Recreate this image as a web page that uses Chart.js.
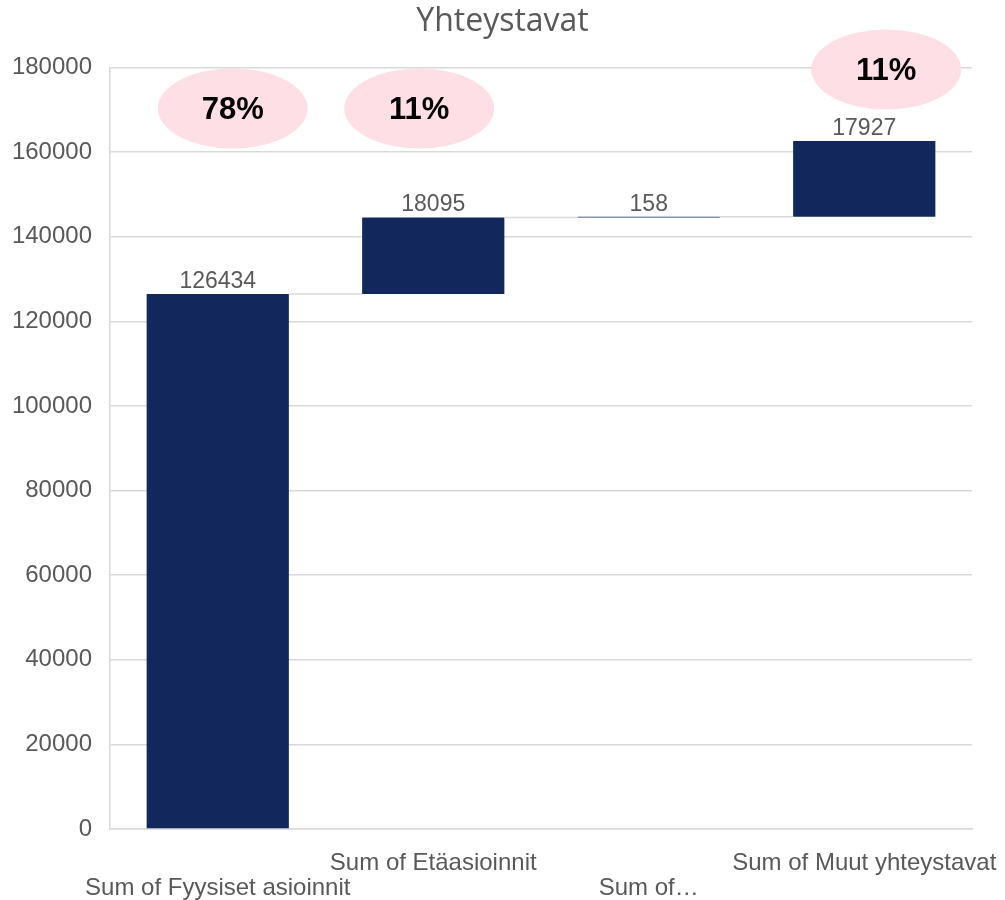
<!DOCTYPE html>
<html>
<head>
<meta charset="utf-8">
<script src="https://cdn.jsdelivr.net/npm/chart.js@4/dist/chart.umd.min.js"></script>
<style>
  body { margin: 0; background: #fff; }
  #wrap { width: 1005px; height: 900px; }
</style>
</head>
<body>
<div id="wrap"><canvas id="waterfall"></canvas></div>
<script>
const categories = [
    "Sum of Fyysiset asioinnit",
    "Sum of Etäasioinnit",
    "Sum of…",
    "Sum of Muut yhteystavat"
];
const values = [126434, 18095, 158, 17927];
const shares = ["78%", "11%", "", "11%"];
const yTicks = { min: 0, max: 180000, step: 20000 };

const textGray = "#595959";
const gridGray = "#d9d9d9";
const barColor = "#12285d";

// running totals -> floating bars
let total = 0;
const floating = values.map(v => {
    const bar = [total, total + v];
    total += v;
    return bar;
});

// value label above each bar + thin connector lines between bars
const waterfallExtras = {
    id: "waterfallExtras",
    afterDatasetsDraw(chart) {
        const ctx = chart.ctx;
        const bars = chart.getDatasetMeta(0).data;
        ctx.save();
        ctx.strokeStyle = gridGray;
        ctx.lineWidth = 1.5;
        for (let i = 0; i < bars.length - 1; i++) {
            const a = bars[i], b = bars[i + 1];
            ctx.beginPath();
            ctx.moveTo(a.x + a.width / 2, a.y);
            ctx.lineTo(b.x - b.width / 2, a.y);
            ctx.stroke();
        }
        ctx.fillStyle = textGray;
        ctx.font = "23px 'Liberation Sans', Arial, sans-serif";
        ctx.textAlign = "center";
        ctx.textBaseline = "alphabetic";
        bars.forEach((bar, i) => {
            ctx.fillText(String(values[i]), bar.x, bar.y - 6);
        });
        ctx.restore();
    }
};

// pink ellipses with share percentages
const shareBubbles = {
    id: "shareBubbles",
    afterDraw(chart, args, opts) {
        const ctx = chart.ctx;
        const x = chart.scales.x, y = chart.scales.y;
        ctx.save();
        shares.forEach((s, i) => {
            if (!s) return;
            const cx = x.getPixelForValue(i) + opts.dx[i];
            const cy = y.getPixelForValue(opts.at[i]);
            ctx.beginPath();
            ctx.ellipse(cx, cy, 75, 40, 0, 0, Math.PI * 2);
            ctx.fillStyle = "#fddfe5";
            ctx.fill();
            ctx.fillStyle = "#000";
            ctx.font = "bold 31px 'Liberation Sans', Arial, sans-serif";
            ctx.textAlign = "center";
            ctx.textBaseline = "middle";
            ctx.fillText(s, cx, cy + 2);
        });
        ctx.restore();
    }
};

new Chart(document.getElementById("waterfall"), {
    type: "bar",
    data: {
        labels: categories,
        datasets: [{
            data: floating,
            backgroundColor: barColor,
            borderWidth: 0,
            borderSkipped: false,
            barPercentage: 0.66,
            categoryPercentage: 1
        }]
    },
    options: {
        responsive: true,
        maintainAspectRatio: false,
        animation: false,
        events: [],
        layout: { padding: 0 },
        plugins: {
            legend: { display: false },
            tooltip: { enabled: false },
            title: {
                display: true,
                text: "Yhteystavat",
                color: textGray,
                font: { family: "'Open Sans', sans-serif", size: 32, weight: "normal" },
                padding: { top: 3, bottom: 26 }
            },
            shareBubbles: {
                dx: [15, -14, 0, 22],
                at: [170300, 170300, 0, 179500]
            }
        },
        scales: {
            x: {
                afterFit: s => { s.height = 71; s.paddingLeft = 0; s.paddingRight = 33; },
                grid: { display: false, drawTicks: false },
                border: { display: true, color: gridGray, width: 1.5 },
                ticks: {
                    color: textGray,
                    font: { family: "'Liberation Sans', Arial, sans-serif", size: 24, lineHeight: 1.05 },
                    padding: 22,
                    maxRotation: 0,
                    minRotation: 0,
                    autoSkip: false,
                    callback: (v, i) => i % 2 === 0 ? ["", categories[i]] : categories[i]
                }
            },
            y: {
                min: yTicks.min,
                max: yTicks.max,
                afterFit: s => { s.width = 110; s.paddingTop = 0; s.paddingBottom = 0; },
                grid: { color: gridGray, lineWidth: 1.5, drawTicks: false },
                border: { display: true, color: gridGray, width: 1.5 },
                ticks: {
                    stepSize: yTicks.step,
                    color: textGray,
                    font: { family: "'Liberation Sans', Arial, sans-serif", size: 24 },
                    padding: 18,
                    callback: v => String(v)
                }
            }
        }
    },
    plugins: [waterfallExtras, shareBubbles]
});
</script>
</body>
</html>
